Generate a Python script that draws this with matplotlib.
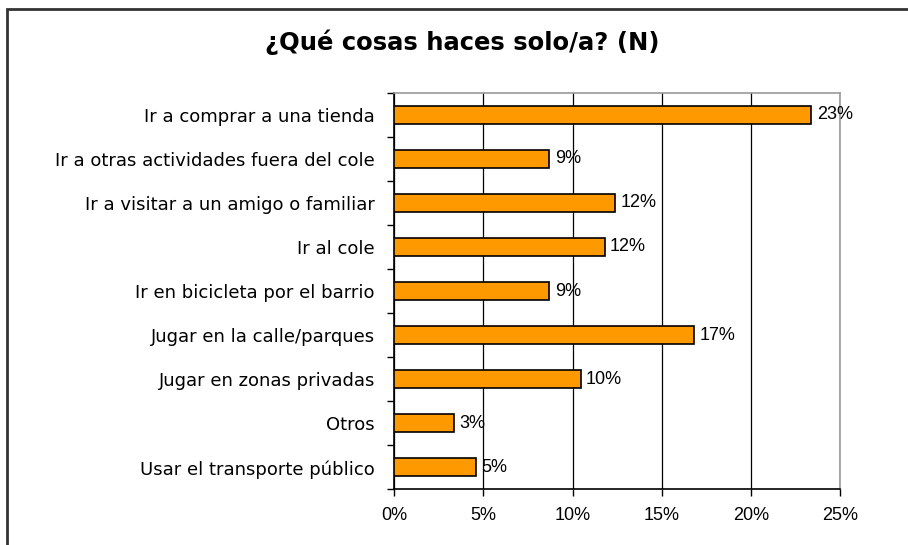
import numpy as np
import matplotlib.pyplot as plt
from matplotlib.patches import Rectangle

categories = [
    'Ir a comprar a una tienda',
    'Ir a otras actividades fuera del cole',
    'Ir a visitar a un amigo o familiar',
    'Ir al cole',
    'Ir en bicicleta por el barrio',
    'Jugar en la calle/parques',
    'Jugar en zonas privadas',
    'Otros',
    'Usar el transporte público',
]
values = [23.4, 8.7, 12.4, 11.8, 8.7, 16.8, 10.45, 3.35, 4.57]
xticks = [0, 5, 10, 15, 20, 25]

fig = plt.figure(figsize=(9.08, 5.45), dpi=100)
ax = fig.add_axes([394.3 / 908, 55.7 / 545, (840 - 394.3) / 908, (489.3 - 92.7) / 545])

y = np.arange(len(categories))
ax.barh(y, values, height=0.4, color='#FF9900', edgecolor='black', linewidth=1.2, zorder=3)

for yi, v in zip(y, values):
    ax.text(v + 0.3, yi, f'{v:.0f}%', va='center', ha='left',
            fontsize=13, family='Liberation Sans', color='black', zorder=4)

ax.set_ylim(len(categories) - 0.5, -0.5)
ax.set_xlim(0, 25)
ax.set_xticks(xticks)
ax.set_xticklabels([f'{t}%' for t in xticks], fontsize=13, family='Liberation Sans')
ax.set_yticks(np.arange(len(categories) + 1) - 0.5, minor=False)
ax.set_yticklabels([])
ax.set_yticks(y, minor=True)
ax.set_yticklabels(categories, minor=True, fontsize=13, family='DejaVu Sans')
ax.tick_params(axis='y', which='minor', length=0, pad=14)
ax.tick_params(axis='y', which='major', length=5, width=1, color='black', direction='out')
ax.tick_params(axis='x', length=5, width=1, direction='out', pad=8)

ax.grid(axis='x', color='black', linewidth=0.9, zorder=0)
for side in ['left', 'bottom']:
    ax.spines[side].set_color('black')
    ax.spines[side].set_linewidth(1.2)
for side in ['right', 'top']:
    ax.spines[side].set_color('#999999')
    ax.spines[side].set_linewidth(1.2)

fig.text(462 / 908, 1 - 42 / 545, '¿Qué cosas haces solo/a? (N)', ha='center', va='center',
         fontsize=17.5, fontweight='bold', family='DejaVu Sans')

frame = Rectangle((7 / 908, -0.05), 1.2, 1 - 9 / 545 + 0.05, transform=fig.transFigure,
                  fill=False, edgecolor='#333333', linewidth=2, clip_on=False)
fig.patches.append(frame)

fig.savefig('out.png', dpi=100)
